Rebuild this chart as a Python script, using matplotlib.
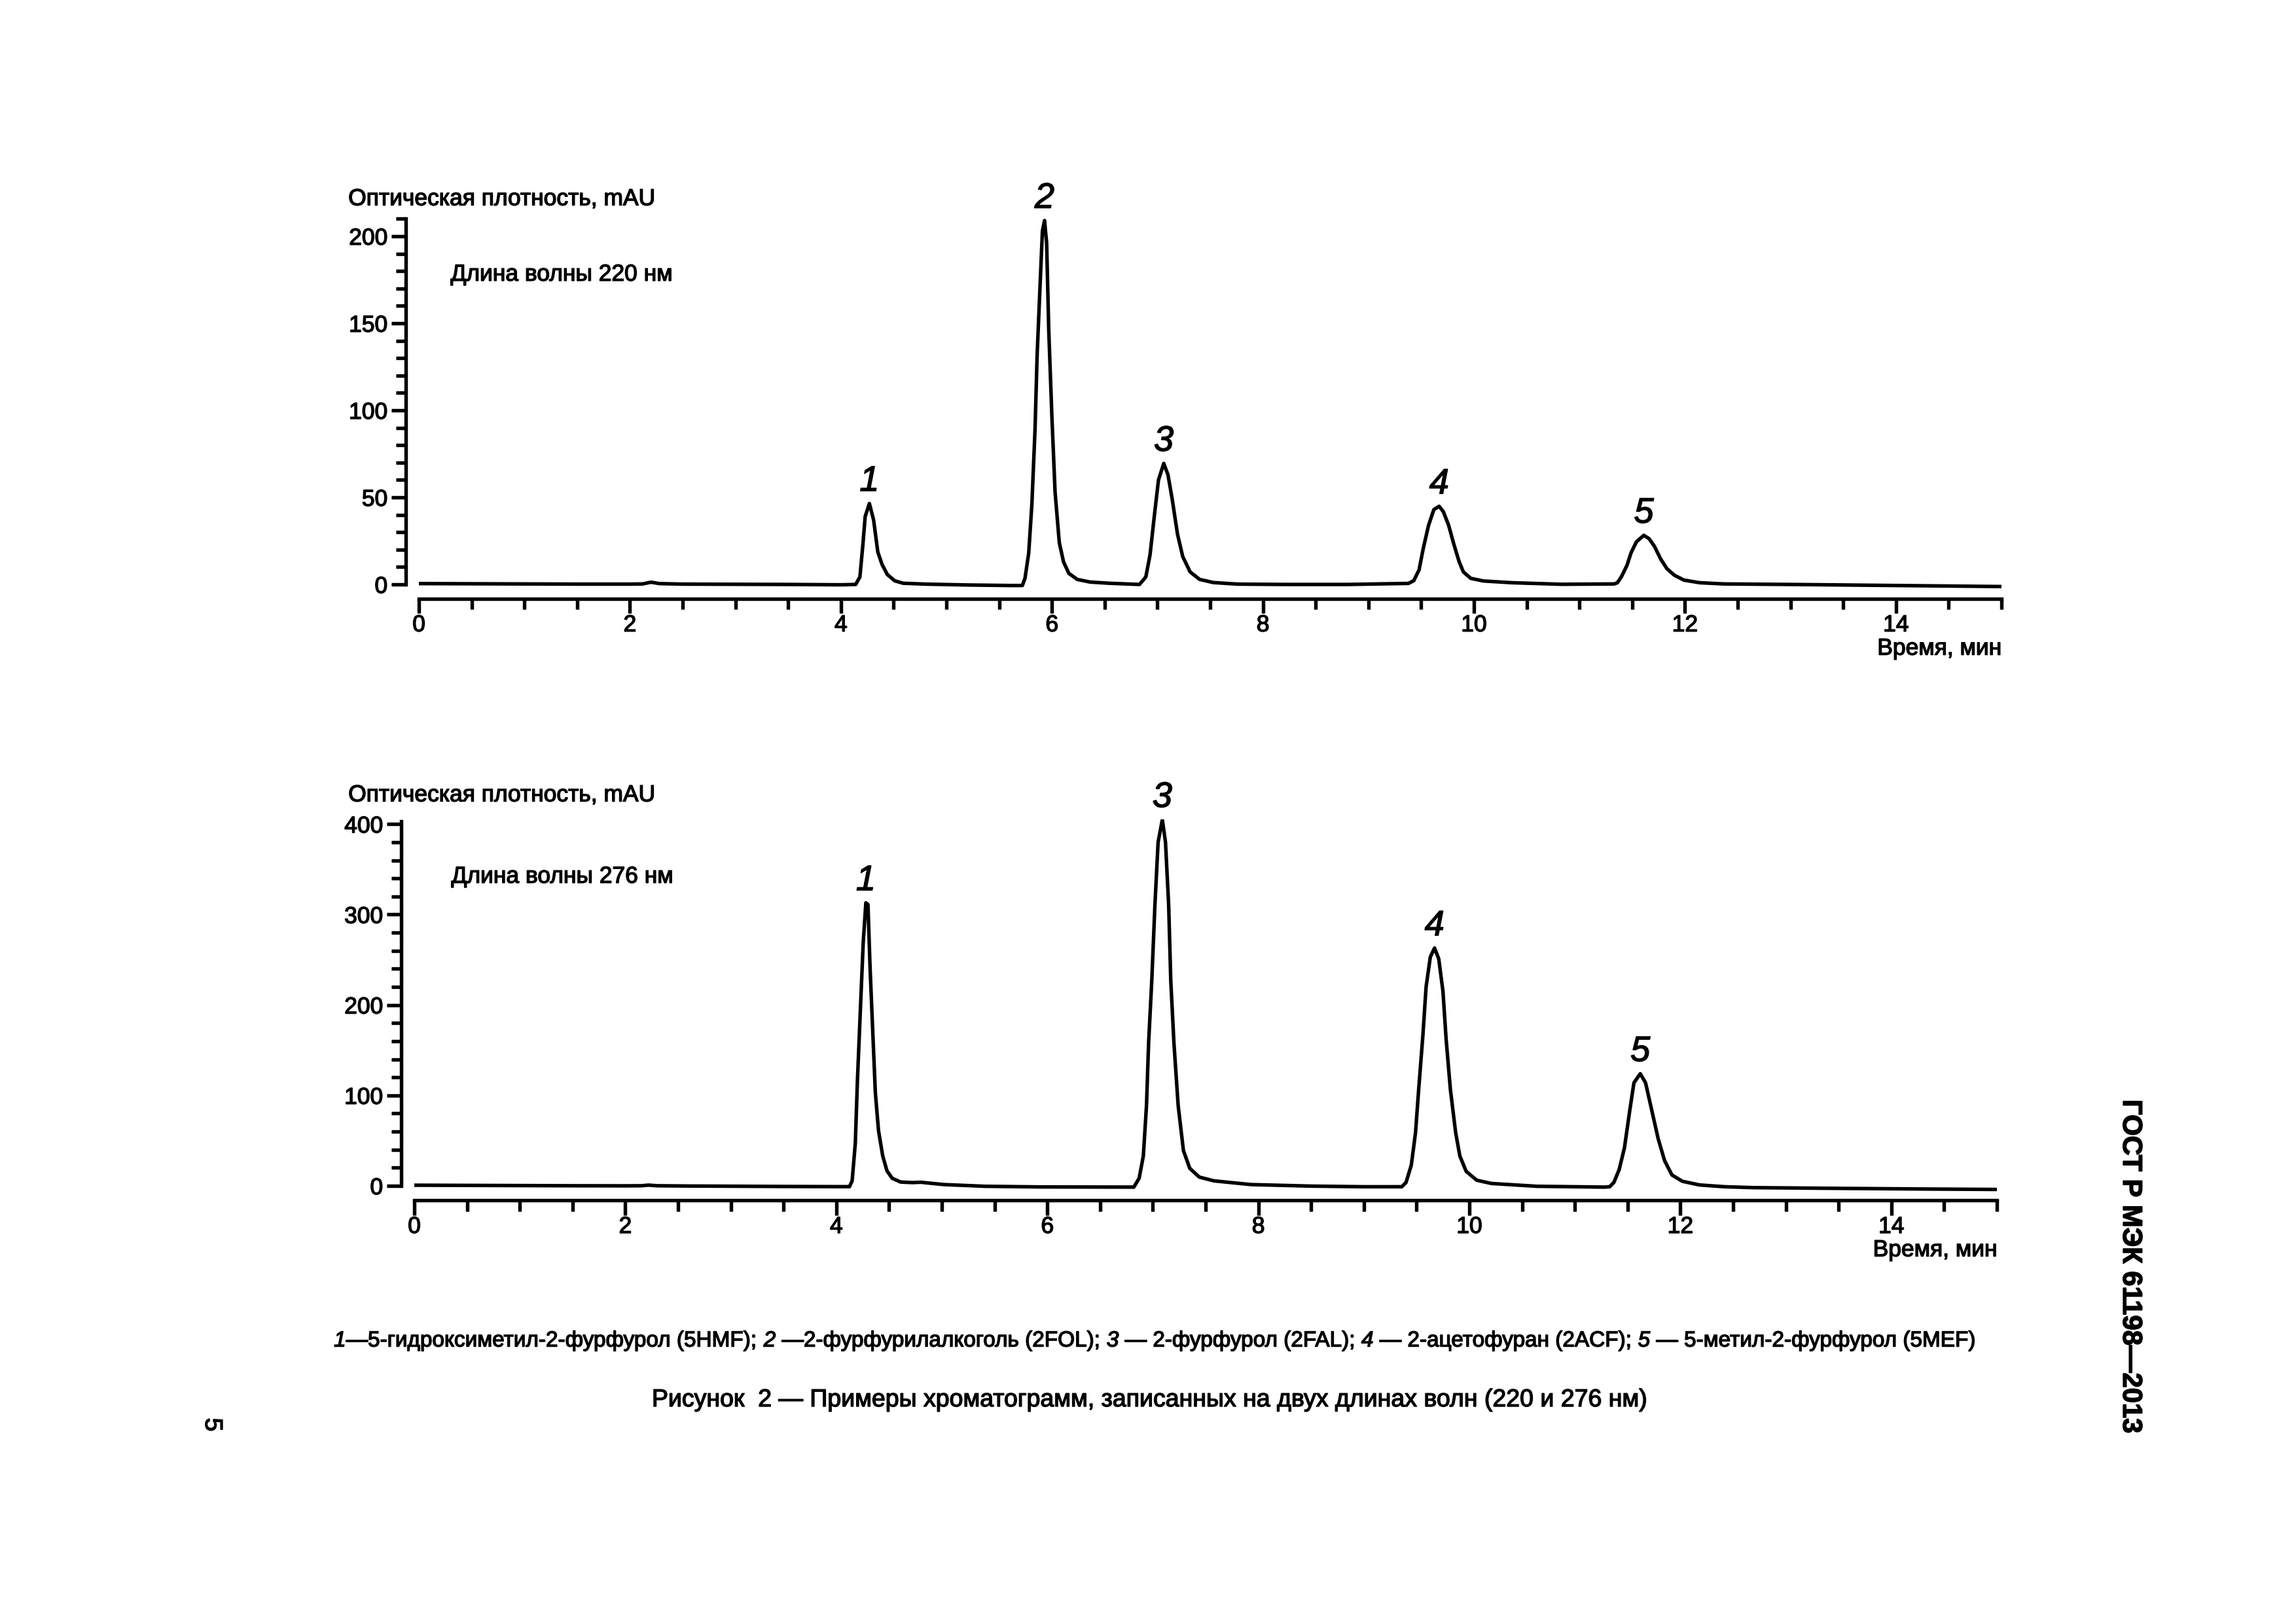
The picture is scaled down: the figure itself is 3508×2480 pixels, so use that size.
import matplotlib
matplotlib.use('Agg')
import matplotlib.pyplot as plt
import numpy as np
from matplotlib import patheffects as pe
from matplotlib.ticker import MultipleLocator, FixedLocator

plt.rcParams['font.family'] = ['Liberation Sans', 'DejaVu Sans']
# the scanned page has slightly heavy type, a thin stroke imitates it
plt.rcParams['path.effects'] = [pe.withStroke(linewidth=0.35, foreground='black')]

# chromatogram at 220 nm (time, min / absorbance, mAU)
t220 = [0.0, 0.5, 1.0, 1.5, 2.0, 2.12, 2.2, 2.28, 2.5, 3.0, 3.5, 4.0,
        4.14, 4.18, 4.21, 4.23, 4.27, 4.31, 4.35, 4.39, 4.44, 4.51, 4.59,
        4.8, 5.2, 5.6, 5.72, 5.745, 5.78, 5.81, 5.84, 5.86, 5.89, 5.91, 5.93,
        5.95, 5.97, 6.0, 6.03, 6.07, 6.11, 6.16, 6.24, 6.36, 6.54, 6.83,
        6.89, 6.93, 6.97, 7.01, 7.06, 7.1, 7.14, 7.19, 7.24, 7.31, 7.4, 7.53,
        7.76, 8.2, 8.8, 9.38, 9.43, 9.48, 9.52, 9.57, 9.62, 9.67, 9.71, 9.76,
        9.81, 9.86, 9.9, 9.97, 10.09, 10.36, 10.83, 11.33, 11.36, 11.4, 11.45,
        11.49, 11.54, 11.61, 11.66, 11.71, 11.77, 11.83, 11.9, 11.99, 12.14,
        12.37, 13.0, 14.0, 15.0]
a220 = [0.5, 0.4, 0.3, 0.2, 0.2, 0.3, 1.3, 0.5, 0.2, 0.1, 0.0, -0.2,
        0.0, 4.3, 24, 39, 46.5, 37, 18.6, 11.5, 5.7, 2.1, 0.7,
        0.2, -0.3, -0.6, -0.6, 3.6, 18, 46, 89, 132, 175, 203, 209,
        196, 146, 96, 53, 24, 13, 6.4, 2.9, 1.4, 0.7, 0.0,
        4.3, 17, 39, 60, 69.5, 63, 49, 29, 16, 7.2, 2.9, 1.1,
        0.2, 0.0, 0.0, 0.6, 2.2, 8.4, 20.8, 34, 43, 44.9, 41.8, 34,
        23, 13, 7.2, 3.5, 2.0, 1.0, 0.1, 0.3, 1.0, 4.7, 10.9,
        18.3, 24.5, 28.2, 26.3, 22, 14.6, 9.0, 5.3, 2.5, 1.0,
        0.3, 0.0, -0.6, -1.2]

# chromatogram at 276 nm
t276 = [0.0, 0.5, 1.0, 1.5, 2.0, 2.15, 2.22, 2.3, 2.6, 3.0, 3.5, 4.0,
        4.125, 4.15, 4.18, 4.2, 4.23, 4.255, 4.28, 4.3, 4.32, 4.35, 4.37,
        4.4, 4.44, 4.48, 4.53, 4.61, 4.72, 4.8, 4.9, 5.02, 5.41, 5.93, 6.82,
        6.87, 6.91, 6.94, 6.96, 6.99, 7.02, 7.05, 7.09, 7.12, 7.15, 7.17,
        7.2, 7.24, 7.29, 7.35, 7.44, 7.58, 7.93, 8.5, 9.0, 9.36, 9.4, 9.45,
        9.49, 9.52, 9.56, 9.59, 9.63, 9.67, 9.71, 9.75, 9.78, 9.82, 9.87,
        9.91, 9.97, 10.07, 10.21, 10.64, 11.28, 11.33, 11.37, 11.42, 11.47,
        11.52, 11.56, 11.62, 11.67, 11.73, 11.79, 11.85, 11.92, 12.02,
        12.18, 12.42, 12.7, 13.5, 14.3, 15.0]
a276 = [0.7, 0.5, 0.3, 0.1, 0.0, 0.1, 0.8, 0.1, -0.2, -0.4, -0.7, -0.9,
        -0.9, 5.5, 47, 116, 200, 269, 313, 311, 241, 158, 103,
        61, 33, 16.6, 8.3, 4.2, 3.6, 4.0, 2.8, 1.4, -0.5, -1.2, -1.4,
        8.3, 33, 89, 158, 227, 311, 380, 405, 380, 311, 227,
        158, 89, 39, 19.4, 9.7, 5.5, 1.4, -0.3, -1.0, -1.0, 3.8, 23,
        59, 107, 167, 220, 253, 263, 251, 215, 162, 107, 59,
        33, 16, 6.2, 2.6, -0.5, -1.4, -1.0, 3.8, 18, 42,
        83, 114, 124, 114, 83, 52, 28, 12, 5,
        1, -1, -2, -2.8, -3.5, -4.0]

# peak numbers and retention times
peaks220 = ['1', '2', '3', '4', '5']
rt220 = [4.27, 5.93, 7.06, 9.67, 11.61]
peaks276 = ['1', '3', '4', '5']
rt276 = [4.28, 7.09, 9.67, 11.62]

# compound list under the figure: (number, description)
compound_nums = ['1', '2', '3', '4', '5']
compound_text = ['—5-гидроксиметил-2-фурфурол (5HMF); ',
                 ' —2-фурфурилалкоголь (2FOL); ',
                 ' — 2-фурфурол (2FAL); ',
                 ' — 2-ацетофуран (2ACF); ',
                 ' — 5-метил-2-фурфурол (5MEF)']

LW = 1.3
FS = 8.5


def style_axes(ax, ytop, ymajor, yminor):
    ax.patch.set_path_effects([])
    ax.set_xlim(0, 15)
    for s in ['top', 'right']:
        ax.spines[s].set_visible(False)
    ax.spines['left'].set_position(('outward', 4.8))
    ax.spines['bottom'].set_position(('outward', 2.6))
    ax.spines['left'].set_bounds(0, ytop)
    ax.spines['bottom'].set_bounds(0, 15)
    for s in ['left', 'bottom']:
        ax.spines[s].set_linewidth(LW)
    ax.xaxis.set_major_locator(FixedLocator(np.arange(0, 15, 2)))
    ax.xaxis.set_minor_locator(FixedLocator(np.arange(0, 15.01, 0.5)))
    ax.yaxis.set_major_locator(MultipleLocator(ymajor))
    ax.yaxis.set_minor_locator(FixedLocator(np.arange(0, ytop + 0.1, yminor)))
    ax.tick_params(axis='x', which='major', length=5.5, width=LW, pad=0.3,
                   labelsize=FS)
    ax.tick_params(axis='x', which='minor', length=4.0, width=LW)
    ax.tick_params(axis='y', which='major', length=5.2, width=LW, pad=1.5,
                   labelsize=FS)
    ax.tick_params(axis='y', which='minor', length=3.5, width=LW)


def label_peaks(ax, t, a, names, rts):
    t = np.array(t)
    a = np.array(a)
    for name, rt in zip(names, rts):
        near = np.abs(t - rt) < 0.08
        top = a[near].max()
        ax.annotate(name, xy=(rt, top), xytext=(0, 8), textcoords='offset points',
                    ha='center', va='center', fontsize=13, style='italic')


fig = plt.figure(figsize=(3508 / 300, 2480 / 300), dpi=300)
fig.patch.set_path_effects([])

# upper chromatogram, 220 nm
ax1 = fig.add_axes([0.18244, 0.6356, 0.68928, 0.2296])
ax1.set_ylim(-4, 210)
ax1.plot(t220, a220, color='black', linewidth=LW)
style_axes(ax1, 210, 50, 10)
label_peaks(ax1, t220, a220, peaks220, rt220)
ax1.text(0.3, 178, 'Длина волны 220 нм', fontsize=FS, ha='left', va='center')

# lower chromatogram, 276 nm
ax2 = fig.add_axes([0.18044, 0.2649, 0.68928, 0.2301])
ax2.set_ylim(-8, 405)
ax2.plot(t276, a276, color='black', linewidth=LW)
style_axes(ax2, 403, 100, 20)
label_peaks(ax2, t276, a276, peaks276, rt276)
ax2.text(0.35, 342, 'Длина волны 276 нм', fontsize=FS, ha='left', va='center')

# axis titles
fig.text(0.1517, 0.8774, 'Оптическая плотность, mAU', fontsize=FS, ha='left', va='center')
fig.text(0.1517, 0.5101, 'Оптическая плотность, mAU', fontsize=FS, ha='left', va='center')
fig.text(0.8717, 0.6004, 'Время, мин', fontsize=FS, ha='right', va='center')
fig.text(0.8698, 0.2298, 'Время, мин', fontsize=FS, ha='right', va='center')

# compound list, numbers in italics, pieces placed one after another
renderer = fig.canvas.get_renderer()
fig_w = fig.get_figwidth() * fig.dpi
x = 0.1454
for num, desc in zip(compound_nums, compound_text):
    for s, st in [(num, 'italic'), (desc, 'normal')]:
        txt = fig.text(x, 0.1738, s, fontsize=8.0, style=st, ha='left', va='center')
        x += txt.get_window_extent(renderer).width / fig_w

fig.text(0.5009, 0.1375,
         'Рисунок  2 — Примеры хроматограмм, записанных на двух длинах волн (220 и 276 нм)',
         fontsize=9, ha='center', va='center')

# page decorations
fig.text(0.9279, 0.2198, 'ГОСТ Р МЭК 61198—2013', fontsize=10, fontweight='bold',
         rotation=-90, ha='center', va='center')
fig.text(0.0924, 0.1222, '5', fontsize=9, rotation=-90, ha='center', va='center')

plt.savefig('out.png', dpi=300)
